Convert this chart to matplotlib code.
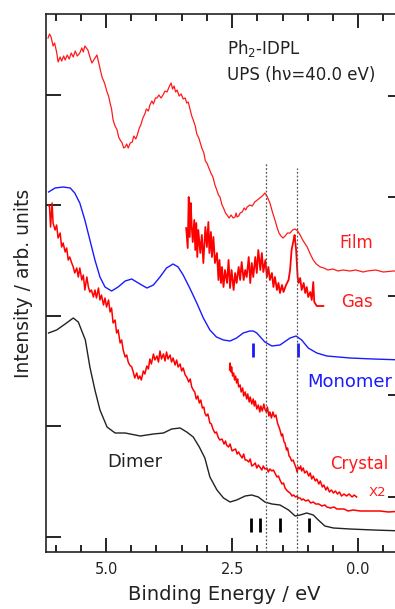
import numpy as np
import matplotlib.pyplot as plt
from matplotlib.ticker import MultipleLocator

plt.rcParams['font.family'] = ['DejaVu Sans']

# Film
film_e = [6.15, 6.12, 6.09, 6.05, 6.02, 5.98, 5.95, 5.91, 5.88, 5.84, 5.81, 5.77, 5.73, 5.69,
          5.65, 5.61, 5.57, 5.52, 5.48, 5.45, 5.42, 5.39, 5.36, 5.32, 5.28, 5.23, 5.18, 5.13,
          5.08, 5.03, 4.98, 4.95, 4.92, 4.89, 4.86, 4.82, 4.78, 4.75, 4.72, 4.68, 4.65, 4.62,
          4.59, 4.56, 4.52, 4.48, 4.45, 4.41, 4.38, 4.34, 4.31, 4.27, 4.23, 4.20, 4.16, 4.13,
          4.09, 4.06, 4.02, 3.99, 3.95, 3.91, 3.87, 3.83, 3.79, 3.75, 3.71, 3.68, 3.65, 3.62,
          3.59, 3.55, 3.51, 3.47, 3.43, 3.40, 3.37, 3.33, 3.30, 3.27, 3.23, 3.20, 3.16, 3.13,
          3.10, 3.06, 3.03, 3.00, 2.96, 2.92, 2.88, 2.84, 2.81, 2.77, 2.74, 2.70, 2.67, 2.63,
          2.60, 2.56, 2.52, 2.48, 2.44, 2.42, 2.40, 2.37, 2.34, 2.30, 2.26, 2.23, 2.20, 2.15,
          2.10, 2.05, 2.00, 1.95, 1.90, 1.85, 1.80, 1.75, 1.70, 1.65, 1.61, 1.57, 1.53, 1.49,
          1.45, 1.40, 1.35, 1.30, 1.25, 1.20, 1.15, 1.10, 1.05, 1.01, 0.95, 0.89, 0.83, 0.75,
          0.68, 0.60, 0.50, 0.40, 0.30, 0.16, 0.05, -0.10, -0.18, -0.35, -0.50, -0.70, -0.90]
film_i = [51.4, 51.8, 51.5, 50.6, 50.9, 50.0, 49.0, 49.5, 49.1, 49.6, 49.2, 49.7, 49.3, 49.9,
          49.5, 50.1, 49.6, 49.9, 50.4, 50.0, 50.6, 50.4, 50.2, 49.5, 48.9, 49.3, 49.7, 48.6,
          47.5, 46.9, 46.0, 45.6, 44.9, 44.3, 43.2, 42.6, 42.2, 41.5, 41.2, 40.9, 40.4, 40.5,
          40.8, 40.4, 40.9, 41.0, 41.6, 41.3, 41.7, 42.4, 42.7, 43.4, 43.8, 44.3, 44.1, 44.7,
          45.1, 44.8, 45.4, 45.4, 45.7, 45.4, 45.7, 46.1, 46.0, 46.5, 46.9, 46.3, 46.6, 46.0,
          46.2, 45.6, 45.8, 45.3, 45.4, 44.9, 45.0, 44.2, 43.6, 43.2, 42.6, 41.8, 41.4, 40.9,
          40.4, 39.9, 39.1, 38.9, 38.4, 37.9, 37.5, 36.7, 36.3, 35.7, 35.5, 34.7, 34.4, 33.9,
          33.7, 33.4, 33.7, 33.4, 33.5, 33.9, 33.5, 33.6, 33.9, 34.0, 34.4, 34.2, 34.5, 34.7,
          34.6, 35.0, 35.2, 35.4, 35.6, 35.9, 35.5, 34.9, 34.0, 33.2, 32.5, 31.9, 31.6, 31.4,
          31.6, 31.9, 31.9, 32.2, 32.3, 32.1, 31.7, 31.2, 30.8, 30.5, 29.8, 29.2, 28.8, 28.5,
          28.4, 28.2, 28.3, 28.1, 28.2, 28.1, 28.2, 28.0, 28.1, 28.2, 28.0, 28.1, 28.1]

# Gas
gas_e = [3.41, 3.38, 3.36, 3.34, 3.32, 3.30, 3.28, 3.25, 3.23, 3.21, 3.19, 3.17, 3.13, 3.10,
         3.07, 3.03, 3.00, 2.97, 2.95, 2.92, 2.90, 2.87, 2.84, 2.80, 2.77, 2.75, 2.72, 2.70,
         2.67, 2.64, 2.60, 2.57, 2.54, 2.51, 2.47, 2.44, 2.41, 2.37, 2.34, 2.31, 2.27, 2.24,
         2.21, 2.17, 2.14, 2.11, 2.08, 2.04, 2.01, 1.98, 1.94, 1.91, 1.88, 1.84, 1.81, 1.78,
         1.75, 1.71, 1.68, 1.65, 1.61, 1.58, 1.55, 1.51, 1.48, 1.43, 1.38, 1.35, 1.32, 1.28,
         1.26, 1.23, 1.20, 1.18, 1.15, 1.12, 1.08, 1.05, 1.02, 0.99, 0.95, 0.92, 0.89, 0.87,
         0.82, 0.69]
gas_i = [32.4, 30.4, 35.5, 31.5, 34.9, 32.5, 31.0, 33.2, 30.2, 32.9, 29.5, 32.2, 29.9, 31.7,
         28.9, 32.5, 30.5, 33.0, 29.9, 32.0, 29.5, 31.5, 28.9, 29.9, 27.2, 29.2, 26.9, 28.5,
         26.5, 28.2, 26.9, 29.2, 26.4, 28.2, 26.2, 27.9, 26.9, 28.5, 27.2, 29.0, 27.2, 28.2,
         27.5, 29.5, 26.9, 28.9, 27.5, 29.5, 27.9, 30.2, 28.2, 29.9, 28.0, 29.2, 27.5, 28.5,
         27.2, 27.9, 26.5, 27.5, 26.2, 26.9, 25.9, 26.7, 26.0, 26.7, 27.2, 28.2, 30.2, 31.2,
         31.7, 30.2, 27.5, 26.9, 27.4, 26.2, 26.9, 25.9, 26.5, 25.5, 26.0, 25.2, 27.0, 25.0,
         24.6, 24.6]

# Monomer
mono_e = [6.14, 6.01, 5.85, 5.71, 5.62, 5.52, 5.42, 5.32, 5.22, 5.12, 5.02, 4.89, 4.76, 4.62,
          4.49, 4.36, 4.19, 4.06, 3.93, 3.80, 3.67, 3.57, 3.47, 3.34, 3.20, 3.07, 2.94, 2.81,
          2.67, 2.54, 2.41, 2.28, 2.15, 2.08, 2.01, 1.85, 1.71, 1.55, 1.35, 1.23, 1.12, 0.99,
          0.82, 0.62, 0.16, -0.30, -0.90]
mono_i = [36.0, 36.4, 36.5, 36.4, 35.9, 34.9, 33.2, 31.2, 29.2, 27.5, 26.5, 26.1, 26.5, 27.1,
          27.3, 26.9, 26.4, 26.7, 27.5, 28.4, 28.8, 28.5, 27.7, 26.4, 24.9, 23.4, 22.2, 21.5,
          21.2, 21.1, 21.4, 21.9, 22.1, 22.1, 21.9, 21.0, 20.6, 20.7, 21.4, 21.6, 21.2, 20.4,
          19.9, 19.6, 19.4, 19.3, 19.2]

# Crystal
cryst_e = [6.14, 6.12, 6.10, 6.07, 6.05, 6.01, 5.98, 5.95, 5.91, 5.88, 5.85, 5.81, 5.78, 5.75,
           5.72, 5.68, 5.65, 5.62, 5.58, 5.55, 5.52, 5.48, 5.45, 5.42, 5.38, 5.35, 5.32, 5.29,
           5.25, 5.22, 5.19, 5.15, 5.12, 5.09, 5.05, 5.02, 4.99, 4.95, 4.92, 4.89, 4.86, 4.82,
           4.79, 4.76, 4.72, 4.69, 4.66, 4.62, 4.59, 4.56, 4.53, 4.49, 4.46, 4.43, 4.39, 4.36,
           4.33, 4.30, 4.26, 4.23, 4.19, 4.16, 4.13, 4.10, 4.06, 4.03, 3.99, 3.96, 3.93, 3.90,
           3.86, 3.83, 3.80, 3.77, 3.73, 3.70, 3.67, 3.63, 3.60, 3.57, 3.53, 3.50, 3.47, 3.43,
           3.40, 3.36, 3.33, 3.30, 3.27, 3.24, 3.21, 3.18, 3.15, 3.12, 3.09, 3.06, 3.04, 3.01,
           2.98, 2.94, 2.91, 2.88, 2.84, 2.81, 2.77, 2.74, 2.70, 2.66, 2.63, 2.61, 2.57, 2.54,
           2.50, 2.47, 2.43, 2.40, 2.37, 2.34, 2.30, 2.27, 2.24, 2.21, 2.17, 2.14, 2.11, 2.08,
           2.04, 2.01, 1.98, 1.95, 1.91, 1.88, 1.85, 1.81, 1.78, 1.75, 1.71, 1.68, 1.64, 1.61,
           1.58, 1.55, 1.51, 1.48, 1.45, 1.42, 1.38, 1.35, 1.31, 1.28, 1.24, 1.21, 1.19, 1.15,
           1.12, 1.09, 1.04, 0.99, 0.94, 0.89, 0.84, 0.78, 0.72, 0.66, 0.62, 0.55, 0.48, 0.42,
           0.36, 0.28, 0.20, 0.10, -0.04, -0.20, -0.43, -0.60, -0.90]
cryst_i = [34.7, 34.5, 32.5, 34.9, 32.9, 32.2, 32.7, 31.4, 31.9, 30.5, 30.9, 30.0, 30.4, 29.2,
           29.5, 28.9, 28.5, 27.9, 28.4, 27.5, 28.4, 27.2, 27.7, 26.2, 27.5, 26.5, 26.0, 26.2,
           25.5, 26.2, 25.4, 26.4, 25.2, 25.7, 24.7, 25.4, 24.5, 25.2, 24.0, 24.4, 22.9, 23.2,
           21.9, 22.2, 20.9, 21.2, 20.2, 19.5, 19.7, 19.0, 18.7, 18.5, 18.0, 17.4, 17.9, 17.3,
           17.6, 17.2, 18.1, 17.8, 18.6, 18.3, 19.3, 18.8, 19.8, 19.2, 19.6, 19.0, 20.1, 19.3,
           19.8, 19.1, 20.0, 19.3, 19.7, 19.0, 19.4, 18.7, 19.2, 18.5, 18.8, 18.1, 18.4, 17.7,
           17.5, 17.0, 17.3, 16.5, 16.2, 16.0, 15.3, 15.6, 14.9, 15.2, 14.4, 14.5, 13.9, 13.6,
           13.8, 12.9, 12.8, 12.3, 11.9, 12.0, 11.4, 11.2, 11.3, 10.8, 11.1, 10.7, 10.5, 10.8,
           10.1, 10.2, 10.3, 9.8, 10.0, 9.7, 9.4, 9.8, 9.2, 9.2, 9.0, 9.3, 8.6, 8.7,
           8.9, 8.4, 8.7, 8.5, 8.2, 8.6, 8.3, 8.4, 8.0, 8.3, 8.1, 8.2, 7.8, 7.5,
           7.6, 7.2, 6.8, 6.9, 6.4, 6.2, 6.0, 5.9, 5.6, 5.7, 5.5, 5.6, 5.4, 5.4,
           5.2, 5.3, 5.1, 5.2, 4.9, 5.0, 4.8, 4.8, 4.6, 4.7, 4.5, 4.4, 4.5, 4.3,
           4.3, 4.3, 4.1, 4.2, 4.1, 4.1, 4.1, 4.0, 4.1]

# Crystal X2
x2_e = [2.55, 2.54, 2.52, 2.51, 2.49, 2.47, 2.45, 2.43, 2.41, 2.39, 2.37, 2.34, 2.32, 2.29,
        2.27, 2.24, 2.21, 2.19, 2.16, 2.14, 2.11, 2.08, 2.06, 2.04, 2.01, 1.98, 1.95, 1.93,
        1.90, 1.87, 1.85, 1.82, 1.80, 1.77, 1.75, 1.72, 1.69, 1.66, 1.63, 1.60, 1.57, 1.55,
        1.52, 1.50, 1.47, 1.45, 1.42, 1.40, 1.37, 1.35, 1.32, 1.29, 1.26, 1.23, 1.21, 1.19,
        1.16, 1.14, 1.12, 1.09, 1.06, 1.02, 0.98, 0.95, 0.92, 0.89, 0.85, 0.82, 0.78, 0.75,
        0.71, 0.68, 0.64, 0.61, 0.57, 0.53, 0.49, 0.45, 0.41, 0.37, 0.33, 0.28, 0.23, 0.18,
        0.12, 0.08, 0.03]
x2_i = [18.2, 18.9, 18.0, 18.5, 17.6, 17.9, 17.2, 17.6, 16.9, 17.3, 16.5, 16.7, 16.0, 16.4,
        15.6, 16.0, 15.3, 15.8, 15.0, 15.5, 14.8, 15.3, 14.6, 15.1, 14.3, 14.7, 14.0, 14.6,
        14.1, 14.8, 14.3, 14.0, 14.5, 13.6, 14.0, 13.4, 14.0, 13.5, 13.7, 12.9, 12.5, 12.2,
        11.6, 11.8, 11.0, 10.9, 10.2, 10.4, 9.6, 9.5, 9.1, 9.2, 8.8, 8.4, 8.0, 8.5,
        8.3, 8.6, 8.1, 8.4, 7.9, 8.1, 7.6, 7.9, 7.3, 7.6, 7.1, 7.3, 6.8, 7.1,
        6.5, 6.7, 6.2, 6.5, 6.0, 6.2, 5.9, 6.1, 5.8, 6.0, 5.6, 5.8, 5.6, 5.8,
        5.5, 5.7, 5.5]

# Dimer
dimer_e = [6.14, 5.98, 5.81, 5.65, 5.55, 5.41, 5.32, 5.22, 5.12, 4.98, 4.82, 4.62, 4.32, 4.06,
           3.86, 3.70, 3.53, 3.40, 3.27, 3.15, 3.04, 2.94, 2.80, 2.67, 2.54, 2.41, 2.24, 2.11,
           1.98, 1.85, 1.71, 1.55, 1.38, 1.25, 1.15, 1.02, 0.89, 0.79, 0.66, 0.49, 0.16, -0.30,
           -0.90]
dimer_i = [21.9, 22.2, 22.8, 23.4, 23.0, 21.2, 18.5, 16.2, 14.2, 12.5, 11.9, 11.9, 11.6, 11.8,
           11.9, 12.3, 12.4, 12.0, 11.5, 10.5, 9.4, 7.5, 6.2, 5.4, 5.0, 5.2, 5.6, 5.7,
           5.5, 5.0, 4.8, 4.7, 4.2, 3.6, 3.7, 3.9, 3.7, 3.2, 2.6, 2.4, 2.3, 2.2,
           2.1]

# calculated level positions
mono_bars = [2.08, 1.19]
dimer_bars = [2.12, 1.94, 1.55, 0.97]
dotted_e = [1.83, 1.22]

fig = plt.figure(figsize=(3.95, 6.09), dpi=100)
ax = fig.add_axes([0.1165, 0.0936, 0.9038, 0.8834])

red = '#ff1a1a'
blue = '#1a1aff'
ax.plot(film_e, film_i, color=red, lw=0.9)
ax.plot(gas_e, gas_i, color='#ff0000', lw=1.3)
ax.plot(mono_e, mono_i, color=blue, lw=1.0)
ax.plot(cryst_e, cryst_i, color='#ff0000', lw=1.1)
ax.plot(x2_e, x2_i, color='#ff0000', lw=1.1)
ax.plot(dimer_e, dimer_i, color='#222222', lw=1.0)

ax.vlines(mono_bars, 19.5, 20.9, color=blue, lw=2)
ax.vlines(dimer_bars, 2.0, 3.4, color='black', lw=2)
ax.vlines(dotted_e[0], 0, 39.0, color='#555555', lw=0.9, linestyles=(0, (1.5, 1.5)))
ax.vlines(dotted_e[1], 0, 38.4, color='#555555', lw=0.9, linestyles=(0, (1.5, 1.5)))

tc = '#222222'
ax.text(2.60, 50.4, 'Ph$_2$-IDPL', fontsize=12, color=tc, va='center')
ax.text(2.60, 47.7, 'UPS (h\u03bd=40.0 eV)', fontsize=12, color=tc, va='center')
ax.text(0.38, 30.9, 'Film', fontsize=12, color=red, va='center')
ax.text(0.34, 25.0, 'Gas', fontsize=12, color=red, va='center')
ax.text(1.01, 17.0, 'Monomer', fontsize=13, color=blue, va='center')
ax.text(0.56, 8.8, 'Crystal', fontsize=12, color=red, va='center')
ax.text(-0.20, 5.9, 'X2', fontsize=9.5, color=red, va='center')
ax.text(4.98, 9.0, 'Dimer', fontsize=13, color=tc, va='center')

ax.set_xlim(6.19, -0.89)
ax.set_ylim(0, 53.8)
ax.set_xticks([5.0, 2.5, 0.0])
ax.set_xticklabels(['5.0', '2.5', '0.0'])
ax.xaxis.set_minor_locator(MultipleLocator(0.5))
ax.set_yticks([1.5, 12.6, 23.6, 34.7, 45.7])
ax.set_yticklabels([])
ax.tick_params(axis='x', which='both', direction='in', top=True, labelsize=10.5,
               labelcolor=tc, pad=7)
ax.tick_params(axis='x', which='major', length=10, width=1.2)
ax.tick_params(axis='x', which='minor', length=5, width=1.2)
ax.tick_params(axis='y', direction='in', length=11, width=1.2)
for s in ['left', 'top', 'bottom']:
    ax.spines[s].set_linewidth(1.2)
    ax.spines[s].set_color('#222222')
ax.spines['right'].set_visible(False)

ax2 = ax.twinx()
ax2.set_ylim(0, 53.8)
ax2.set_yticks([5.5, 15.7, 25.6, 35.5, 45.6])
ax2.set_yticklabels([])
ax2.tick_params(axis='y', direction='in', length=11, width=1.2)
for s in ['left', 'top', 'bottom']:
    ax2.spines[s].set_visible(False)

ax.set_xlabel('Binding Energy / eV', fontsize=14, color=tc, labelpad=6)
ax.set_ylabel('Intensity / arb. units', fontsize=13.5, color=tc, labelpad=6)

fig.savefig('out.png', dpi=100)
